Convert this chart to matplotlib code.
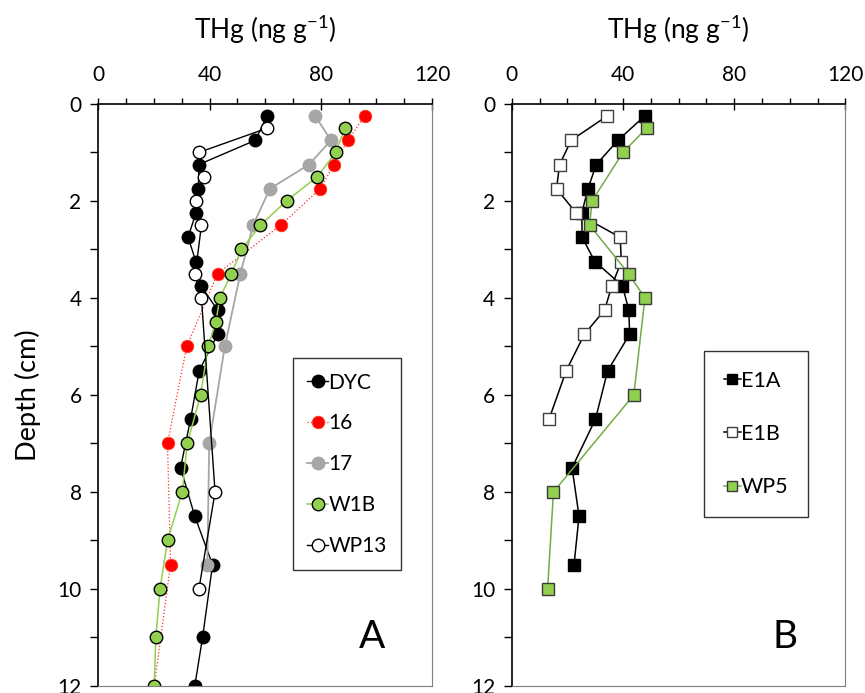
import matplotlib
matplotlib.use("Agg")
import matplotlib.pyplot as plt
from matplotlib.ticker import MultipleLocator

plt.rcParams["font.family"] = ["Lato", "DejaVu Sans"]
plt.rcParams["mathtext.fontset"] = "custom"
plt.rcParams["mathtext.rm"] = "Lato"

# panel A : THg (ng/g) vs depth (cm)
dyc_depth = [0.25, 0.75, 1.25, 1.75, 2.25, 2.75, 3.25, 3.75, 4.25, 4.75, 5.5, 6.5, 7.5, 8.5, 9.5, 11, 12]
dyc_thg = [60.7, 56.5, 36.2, 36.0, 35.1, 32.3, 35.1, 36.9, 42.9, 42.9, 36.3, 33.2, 29.6, 34.7, 41.1, 37.5, 34.7]

s16_depth = [0.25, 0.75, 1.25, 1.75, 2.5, 3.5, 5, 7, 9.5, 12]
s16_thg = [95.8, 89.8, 84.8, 79.8, 65.6, 42.9, 31.8, 24.9, 26.0, 20.1]

s17_depth = [0.25, 0.75, 1.25, 1.75, 2.5, 3.5, 5, 7, 9.5]
s17_thg = [78.0, 83.7, 75.8, 61.7, 55.7, 51.1, 45.5, 39.9, 39.2]

w1b_depth = [0.5, 1, 1.5, 2, 2.5, 3, 3.5, 4, 4.5, 5, 6, 7, 8, 9, 10, 11, 12]
w1b_thg = [88.7, 85.4, 78.8, 67.7, 58.3, 51.5, 47.9, 43.7, 42.3, 39.5, 36.8, 32.0, 30.2, 24.9, 22.2, 20.7, 20.1]

wp13_depth = [0.5, 1, 1.5, 2, 2.5, 3.5, 4, 8, 10]
wp13_thg = [60.8, 36.2, 38.1, 35.1, 37.1, 34.9, 37.1, 42.0, 36.2]

# panel B
e1a_depth = [0.25, 0.75, 1.25, 1.75, 2.25, 2.75, 3.25, 3.75, 4.25, 4.75, 5.5, 6.5, 7.5, 8.5, 9.5]
e1a_thg = [47.8, 38.2, 30.4, 27.4, 25.2, 25.3, 29.9, 39.8, 42.1, 42.4, 34.5, 30.1, 21.7, 24.2, 22.4]

e1b_depth = [0.25, 0.75, 1.25, 1.75, 2.25, 2.75, 3.25, 3.75, 4.25, 4.75, 5.5, 6.5]
e1b_thg = [34.3, 21.4, 17.2, 16.1, 23.2, 39.0, 39.4, 36.0, 33.4, 26.1, 19.6, 13.4]

wp5_depth = [0.5, 1, 2, 2.5, 3.5, 4, 6, 8, 10]
wp5_thg = [48.5, 40.0, 28.9, 28.0, 42.0, 47.9, 43.9, 15.0, 12.9]

green = "#92d050"

fig = plt.figure(figsize=(8.65, 6.93), dpi=100)
axA = fig.add_axes([0.1136, 0.0101, 0.3858, 0.840])
axB = fig.add_axes([0.5916, 0.0101, 0.3858, 0.840])

ms = 9
axA.plot(dyc_thg, dyc_depth, "-o", color="black", lw=1.0, ms=ms, mfc="black", mec="black", label="DYC")
axA.plot(s16_thg, s16_depth, ":o", color="#ff2a2a", lw=0.9, ms=ms, mfc="#ff0000", mec="#ff3c1e", mew=0.6, label="16")
axA.plot(s17_thg, s17_depth, "-o", color="#a6a6a6", lw=1.3, ms=ms, mfc="#a6a6a6", mec="#a6a6a6", label="17")
axA.plot(w1b_thg, w1b_depth, "-o", color=green, lw=1.1, ms=ms, mfc=green, mec="black", mew=1.0, label="W1B")
axA.plot(wp13_thg, wp13_depth, "-o", color="black", lw=1.0, ms=ms, mfc="white", mec="black", mew=1.0, label="WP13")

sq = 8.5
axB.plot(e1a_thg, e1a_depth, "-s", color="black", lw=1.1, ms=sq, mfc="black", mec="black", label="E1A")
axB.plot(e1b_thg, e1b_depth, "-s", color="black", lw=1.1, ms=sq, mfc="white", mec="#404040", mew=1.0, label="E1B")
axB.plot(wp5_thg, wp5_depth, "-s", color="#70ad47", lw=1.1, ms=sq, mfc=green, mec="#3a3a3a", mew=1.0, label="WP5")

for ax in (axA, axB):
    ax.set_xlim(0, 120)
    ax.set_ylim(12, 0)
    ax.xaxis.tick_top()
    ax.xaxis.set_label_position("top")
    ax.xaxis.set_major_locator(MultipleLocator(40))
    ax.xaxis.set_minor_locator(MultipleLocator(10))
    ax.yaxis.set_major_locator(MultipleLocator(2))
    ax.yaxis.set_minor_locator(MultipleLocator(1))
    ax.tick_params(axis="x", which="major", direction="inout", length=9, width=1, labelsize=15, pad=9)
    ax.tick_params(axis="x", which="minor", direction="out", length=4, width=1)
    ax.tick_params(axis="y", which="both", direction="out", length=6, width=1, labelsize=15, pad=6)
    ax.spines["top"].set_linewidth(1.2)
    ax.spines["left"].set_linewidth(1.2)
    ax.spines["right"].set_color("#7f7f7f")
    ax.spines["bottom"].set_color("#7f7f7f")
    ax.set_xlabel(r"THg (ng g$^{\mathregular{-1}}$)", fontsize=19, labelpad=19)

axA.set_ylabel("Depth (cm)", fontsize=19.5, labelpad=12)
axA.text(0.82, 0.085, "A", transform=axA.transAxes, fontsize=28, ha="center", va="center")
axB.text(0.82, 0.085, "B", transform=axB.transAxes, fontsize=28, ha="center", va="center")

legA = axA.legend(loc="upper left", bbox_to_anchor=(0.583, 0.5636), fontsize=15, frameon=True,
                  fancybox=False, edgecolor="black", handlelength=1.0, handletextpad=0.0,
                  labelspacing=1.0, borderpad=0.7, borderaxespad=0)
legA.get_frame().set_linewidth(1.0)
legB = axB.legend(loc="upper left", bbox_to_anchor=(0.577, 0.575), fontsize=15.5, frameon=True,
                  fancybox=False, edgecolor="black", handlelength=0.8, handletextpad=0.0,
                  labelspacing=1.55, borderpad=0.9, borderaxespad=0, markerscale=0.85)
legB.get_frame().set_linewidth(1.0)

fig.savefig("out.png", dpi=100)
